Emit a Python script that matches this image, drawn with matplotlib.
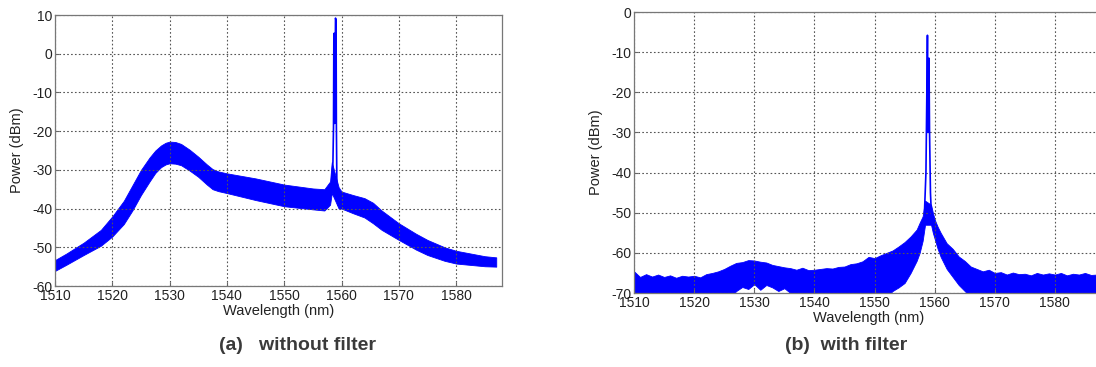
import numpy as np
import matplotlib.pyplot as plt

plt.rcParams['font.family'] = ['Liberation Sans', 'DejaVu Sans']
plt.rcParams['axes.unicode_minus'] = False

# (a) without filter: ASE band envelope (dBm) and the laser spike
wl_a = [1510, 1512, 1515, 1518, 1520, 1522, 1523.5, 1525, 1526.5, 1527.5, 1528.5, 1529.3, 1530,
        1531, 1532, 1533.5, 1535, 1536.5, 1537.5, 1538.5,
        1540, 1545, 1550, 1555, 1557, 1558, 1558.3, 1559.5, 1560, 1562, 1564, 1565.5, 1567,
        1570, 1573, 1575, 1578, 1580, 1585, 1587]
top_a = [-53.3, -51.6, -48.8, -45.5, -42.0, -38.0, -34.0, -30.0, -26.8, -25.0, -23.7, -23.0, -22.7,
         -22.8, -23.3, -24.8, -26.6, -28.6, -29.8, -30.4,
         -30.9, -32.2, -33.8, -34.8, -35.0, -33.0, -28.0, -34.5, -35.6, -36.5, -37.3, -38.5, -40.5,
         -43.8, -46.5, -48.1, -50.0, -50.9, -52.3, -52.6]
bot_a = [-56.1, -54.5, -52.0, -49.6, -47.2, -44.0, -40.5, -36.5, -33.0, -30.8, -29.3, -28.6, -28.3,
         -28.4, -28.8, -30.2, -31.8, -33.8, -35.0, -35.5,
         -36.0, -37.8, -39.4, -40.2, -40.5, -39.0, -36.0, -40.0, -40.0, -41.2, -42.3, -43.8, -45.5,
         -48.1, -50.6, -52.0, -53.5, -54.2, -54.9, -55.0]
spike_wl_a = [1558.3, 1558.5, 1558.6, 1558.66, 1558.72, 1558.8, 1558.95, 1559.05, 1559.1, 1559.2, 1559.4]
spike_a = [-33.0, -28.0, -19.0, 4.5, 5.3, -18.0, 9.2, 8.5, -18.0, -36.0, -39.0]

# (b) with filter: noisy floor envelope (dBm) and the filtered laser line
wl_b = [1510, 1511, 1512, 1513, 1514, 1515, 1516, 1517, 1518, 1519, 1520, 1521, 1522, 1523,
        1524, 1525, 1526, 1527, 1528, 1529, 1530, 1531, 1532, 1533, 1534, 1535, 1536, 1537,
        1538, 1539, 1540, 1541, 1542, 1543, 1544, 1545, 1546, 1547, 1548, 1549, 1550, 1551,
        1552, 1553, 1554, 1555, 1556, 1557, 1557.5, 1558, 1558.4, 1559.4, 1559.7, 1560, 1560.5,
        1561, 1562, 1563, 1564, 1565, 1566, 1567, 1568, 1569, 1570, 1571, 1572, 1573, 1574,
        1575, 1576, 1577, 1578, 1579, 1580, 1581, 1582, 1583, 1584, 1585, 1586, 1587, 1588]
top_b = [-64.6, -66.0, -65.3, -65.9, -65.4, -66.0, -65.6, -66.2, -65.7, -65.9, -65.7, -66.1,
         -65.3, -65.0, -64.6, -64.0, -63.2, -62.5, -62.3, -61.8, -61.9, -62.2, -62.4, -63.0,
         -63.3, -63.6, -63.8, -64.2, -63.7, -64.3, -64.2, -64.0, -63.8, -63.9, -63.5, -63.4,
         -62.8, -62.6, -62.1, -61.0, -61.3, -60.6, -60.0, -59.4, -58.4, -57.3, -55.9, -54.2,
         -52.5, -50.9, -47.0, -48.0, -50.0, -51.7, -53.5, -55.0, -57.6, -59.0, -60.9, -62.0,
         -63.4, -64.0, -64.6, -64.2, -65.0, -64.8, -65.4, -64.9, -65.3, -65.2, -65.6, -65.0,
         -65.4, -65.1, -65.4, -65.0, -65.6, -65.2, -65.4, -65.0, -65.5, -65.4, -65.4]
bot_b = [-71.0, -71.0, -71.0, -71.0, -71.0, -71.0, -71.0, -71.0, -71.0, -71.0, -71.0, -71.0,
         -71.0, -71.0, -71.0, -71.0, -71.0, -69.5, -68.5, -69.0, -67.8, -69.2, -68.0, -68.6,
         -69.5, -68.8, -70.0, -71.0, -71.0, -71.0, -71.0, -71.0, -71.0, -71.0, -71.0, -71.0,
         -71.0, -71.0, -71.0, -71.0, -71.0, -71.0, -71.0, -69.5, -68.6, -67.5, -65.0, -62.0,
         -60.0, -57.0, -53.0, -53.0, -55.0, -56.5, -59.0, -61.0, -64.0, -66.0, -68.0, -69.5,
         -71.0, -71.0, -71.0, -71.0, -71.0, -71.0, -71.0, -71.0, -71.0, -71.0, -71.0, -71.0,
         -71.0, -71.0, -71.0, -71.0, -71.0, -71.0, -71.0, -71.0, -71.0, -71.0, -71.0]
spike_wl_b = [1558.3, 1558.55, 1558.7, 1558.8, 1558.9, 1559.0, 1559.05, 1559.15, 1559.3, 1559.5]
spike_b = [-50.0, -40.0, -20.0, -5.8, -30.0, -12.0, -11.5, -30.0, -45.0, -52.0]

xticks = [1510, 1520, 1530, 1540, 1550, 1560, 1570, 1580]
blue = '#0000ff'
txt = '#222222'

fig = plt.figure(figsize=(10.96, 3.67), dpi=100)
ax_a = fig.add_axes([0.0502, 0.2207, 0.4078, 0.7384])
ax_b = fig.add_axes([0.5785, 0.2016, 0.4279, 0.7657])

panels = [
    (ax_a, wl_a, top_a, bot_a, spike_wl_a, spike_a, (-60, 10), range(-60, 11, 10)),
    (ax_b, wl_b, top_b, bot_b, spike_wl_b, spike_b, (-70, 0), range(-70, 1, 10)),
]
for ax, wl, top, bot, swl, sp, ylim, yt in panels:
    ax.fill_between(wl, bot, top, color=blue, linewidth=0.6, edgecolor=blue)
    ax.plot(swl, sp, color=blue, linewidth=1.2)
    ax.set_xlim(1510, 1588)
    ax.set_ylim(*ylim)
    ax.set_xticks(xticks)
    ax.set_yticks(list(yt))
    ax.grid(True, color='#555555', linestyle=(0, (1.5, 2)), linewidth=0.8)
    ax.tick_params(direction='in', length=3, color='#666666', labelsize=10,
                   labelcolor=txt, pad=2)
    for s in ax.spines.values():
        s.set_color('#777777')
        s.set_linewidth(0.9)
    ax.set_xlabel('Wavelength (nm)', fontsize=10.5, color=txt, labelpad=1)
    ax.set_ylabel('Power (dBm)', fontsize=10.5, color=txt, labelpad=6)

fig.text(298 / 1096, 1 - 345 / 367, '(a)   without filter', ha='center', va='center',
         fontsize=14, fontweight='bold', color='#3a3a3a')
fig.text(846 / 1096, 1 - 345 / 367, '(b)  with filter', ha='center', va='center',
         fontsize=14, fontweight='bold', color='#3a3a3a')

fig.savefig('out.png', dpi=100)
